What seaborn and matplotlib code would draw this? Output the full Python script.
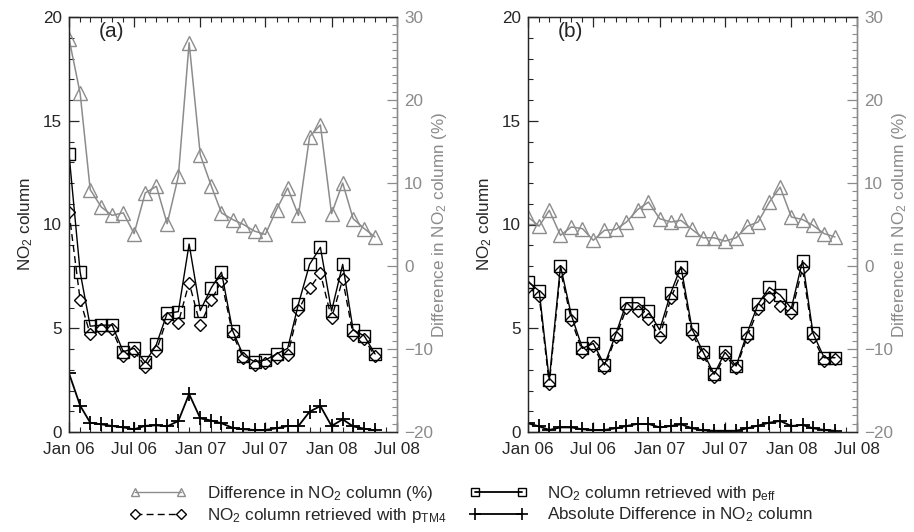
import numpy as np
import pandas as pd
import matplotlib
matplotlib.use("Agg")
import matplotlib.pyplot as plt
import matplotlib.dates as mdates
from matplotlib.ticker import MultipleLocator
from matplotlib.lines import Line2D
import seaborn as sns

# ---------------- data ----------------
months = pd.date_range("2006-01-01", periods=29, freq="MS")

# panel (a)
a_diff_pct = [27.4, 20.8, 9.2, 7.1, 6.1, 6.4, 3.9, 8.8, 9.6, 5.1, 10.8, 26.9, 13.4, 9.6,
              6.4, 5.6, 5.0, 4.2, 3.8, 6.8, 9.4, 6.1, 15.6, 17.0, 6.3, 10.0, 5.7, 4.5, 3.5]
a_peff = [13.4, 7.7, 5.1, 5.15, 5.15, 3.87, 4.03, 3.36, 4.22, 5.72, 5.8, 9.06, 5.85, 6.96,
          7.7, 4.88, 3.68, 3.39, 3.47, 3.76, 4.03, 6.17, 8.08, 8.9, 5.83, 8.08, 4.92, 4.63, 3.76]
a_ptm4 = [10.6, 6.36, 4.7, 4.96, 4.94, 3.66, 3.92, 3.15, 3.92, 5.48, 5.27, 7.2, 5.16, 6.36,
          7.28, 4.72, 3.55, 3.23, 3.34, 3.55, 3.71, 5.88, 6.92, 7.65, 5.48, 7.36, 4.67, 4.47, 3.66]
a_absdiff = [2.83, 1.27, 0.45, 0.37, 0.29, 0.22, 0.13, 0.3, 0.32, 0.27, 0.53, 1.83, 0.66, 0.55,
             0.42, 0.2, 0.13, 0.1, 0.1, 0.18, 0.29, 0.29, 0.98, 1.25, 0.29, 0.61, 0.27, 0.16, 0.08]

# panel (b)
b_diff_pct = [5.9, 4.8, 6.7, 3.7, 4.7, 4.5, 3.1, 4.3, 4.4, 5.3, 6.8, 7.7, 5.7, 5.3,
              5.5, 4.4, 3.4, 3.4, 3.0, 3.4, 4.8, 5.3, 7.7, 9.5, 5.9, 5.6, 4.9, 3.9, 3.5]
b_peff = [7.24, 6.8, 2.5, 8.0, 5.64, 4.03, 4.27, 3.23, 4.7, 6.23, 6.23, 5.83, 4.92, 6.71,
          7.97, 4.95, 3.87, 2.78, 3.84, 3.18, 4.79, 6.17, 6.97, 6.6, 5.96, 8.26, 4.76, 3.58, 3.58]
b_ptm4 = [7.0, 6.55, 2.31, 7.78, 5.4, 3.87, 4.14, 3.1, 4.56, 5.96, 5.83, 5.43, 4.6, 6.44,
          7.65, 4.72, 3.74, 2.63, 3.71, 3.07, 4.6, 5.91, 6.52, 6.07, 5.72, 7.89, 4.56, 3.44, 3.5]
b_absdiff = [0.42, 0.27, 0.1, 0.22, 0.22, 0.13, 0.1, 0.1, 0.18, 0.29, 0.39, 0.39, 0.22, 0.29,
             0.37, 0.18, 0.08, 0.06, 0.06, 0.06, 0.18, 0.31, 0.45, 0.53, 0.29, 0.34, 0.18, 0.1, 0.06]

panel_labels = ["(a)", "(b)"]
legend_labels = ["Difference in NO$_2$ column (%)",
                 "NO$_2$ column retrieved with p$_{\\mathrm{TM4}}$",
                 "NO$_2$ column retrieved with p$_{\\mathrm{eff}}$",
                 "Absolute Difference in NO$_2$ column"]

# ---------------- style ----------------
sns.set_style("ticks")
plt.rcParams["font.family"] = ["Liberation Sans", "DejaVu Sans"]
plt.rcParams["mathtext.fontset"] = "custom"
plt.rcParams["mathtext.rm"] = "Liberation Sans"
plt.rcParams["mathtext.it"] = "Liberation Sans:italic"
plt.rcParams["mathtext.bf"] = "Liberation Sans:bold"

GRAY = "#8c8c8c"
GRAYTXT = "#8a8a8a"
BLACK = "black"

fig = plt.figure(figsize=(9.14, 5.32), dpi=100)

ax_positions = [[69 / 914, 1 - 432 / 532, 328 / 914, 415 / 532],
                [528 / 914, 1 - 432 / 532, 329 / 914, 415 / 532]]

datasets = [(a_diff_pct, a_peff, a_ptm4, a_absdiff),
            (b_diff_pct, b_peff, b_ptm4, b_absdiff)]

xmin = pd.Timestamp("2006-01-01")
xmax = pd.Timestamp("2008-07-01")

for pos, (dpct, peff, ptm4, absd), plab in zip(ax_positions, datasets, panel_labels):
    ax = fig.add_axes(pos)
    ax2 = ax.twinx()

    sns.lineplot(x=months, y=ptm4, ax=ax, color=BLACK, linestyle=(0, (5, 3)), lw=1.0,
                 marker="D", ms=6.5, mfc="white", mec=BLACK, mew=1.0)
    sns.lineplot(x=months, y=peff, ax=ax, color=BLACK, lw=1.0,
                 marker="s", ms=9, mfc="none", mec=BLACK, mew=1.0)
    sns.lineplot(x=months, y=absd, ax=ax, color=BLACK, lw=1.3,
                 marker="+", ms=10, mec=BLACK, mew=1.3)
    sns.lineplot(x=months, y=dpct, ax=ax2, color=GRAY, lw=1.1,
                 marker="^", ms=10, mfc="none", mec=GRAY, mew=1.0)

    ax.set_xlim(xmin, xmax)
    ax.set_ylim(0, 20)
    ax2.set_ylim(-20, 30)

    ax.xaxis.set_major_locator(mdates.MonthLocator(bymonth=[1, 7]))
    ax.xaxis.set_minor_locator(mdates.MonthLocator())
    ax.xaxis.set_major_formatter(mdates.DateFormatter("%b %y"))
    ax.yaxis.set_major_locator(MultipleLocator(5))
    ax.yaxis.set_minor_locator(MultipleLocator(1))
    ax2.yaxis.set_major_locator(MultipleLocator(10))
    ax2.yaxis.set_minor_locator(MultipleLocator(1))

    ax.tick_params(axis="x", which="both", direction="in", top=True, bottom=True,
                   labelsize=12.3, pad=7)
    ax.tick_params(axis="y", which="both", direction="in", left=True, right=False,
                   labelsize=12.3, pad=5)
    ax.tick_params(which="major", length=7, width=0.9)
    ax.tick_params(which="minor", length=3.5, width=0.8)
    ax2.tick_params(axis="y", which="both", direction="in", colors=GRAY,
                    labelcolor=GRAYTXT, labelsize=12.3, pad=5)
    ax2.tick_params(which="major", length=7, width=0.9)
    ax2.tick_params(which="minor", length=3.5, width=0.8)

    for s in ax.spines.values():
        s.set_linewidth(0.9)
    for s in ax2.spines.values():
        s.set_linewidth(0.9)
    ax2.spines["right"].set_color(GRAY)

    ax.set_xlabel("")
    ax.set_ylabel("NO$_2$ column", fontsize=12.3, labelpad=6)
    ax2.set_ylabel("Difference in NO$_2$ column (%)", fontsize=12.3, color=GRAYTXT,
                   labelpad=-2)

    ax.text(0.09, 0.988, plab, transform=ax.transAxes, fontsize=15, va="top", ha="left")

# ---------------- legend ----------------
handles = [
    Line2D([], [], color=GRAY, lw=1.0, marker="^", ms=6, mfc="none", mec=GRAY),
    Line2D([], [], color=BLACK, lw=1.0, linestyle=(0, (5, 3)), marker="D", ms=5,
           mfc="white", mec=BLACK),
    Line2D([], [], color=BLACK, lw=1.3, marker="s", ms=6, mfc="none", mec=BLACK),
    Line2D([], [], color=BLACK, lw=1.3, marker="+", ms=8, mew=1.2),
]
fig.legend(handles, legend_labels, loc="upper left", bbox_to_anchor=(130 / 914, 1 - 484 / 532),
           ncol=2, frameon=False, fontsize=12.3, numpoints=2, handlelength=3.3,
           handletextpad=1.2, columnspacing=1.4, labelspacing=0.15,
           borderpad=0, borderaxespad=0)

fig.savefig("out.png", dpi=100)
